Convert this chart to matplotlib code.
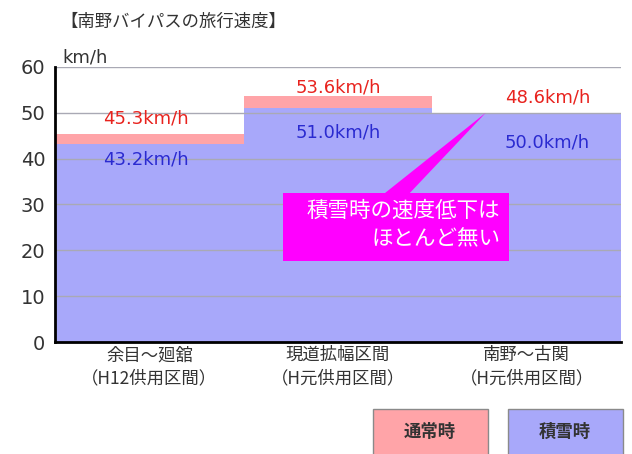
import matplotlib
matplotlib.use("Agg")
import matplotlib.pyplot as plt
from matplotlib.patches import Polygon, Rectangle

plt.rcParams['font.family'] = ['Noto Sans CJK JP', 'DejaVu Sans']

# Section names and travel speeds (km/h)
sections = ["余目～廻舘\n（H12供用区間）", "現道拡幅区間\n（H元供用区間）", "南野～古関\n（H元供用区間）"]
normal_speed = [45.3, 53.6, 48.6]   # 通常時
snow_speed = [43.2, 51.0, 50.0]     # 積雪時
y_ticks = [0, 10, 20, 30, 40, 50, 60]

pink = "#FFA4A8"
blue = "#A8A8FA"
red_txt = "#E8231E"
blue_txt = "#2A2AD0"
latin = ['DejaVu Sans']

fig = plt.figure(figsize=(6.32, 4.54), dpi=100)
ax = fig.add_axes([55 / 632, 1 - 342 / 454, (621 - 55) / 632, (342 - 67) / 454])

x = list(range(len(sections)))
ax.bar(x, normal_speed, width=1.0, color=pink, zorder=1, linewidth=0)
ax.bar(x, snow_speed, width=1.0, color=blue, zorder=2, linewidth=0)

ax.set_xlim(-0.5, 2.5)
ax.set_ylim(0, 60)
ax.set_yticks(y_ticks)
ax.set_yticklabels([str(v) for v in y_ticks], fontsize=14, color="#333333", family=latin)
ax.tick_params(axis='y', length=0, pad=7)
ax.set_xticks(x)
ax.set_xticklabels(sections, fontsize=12.5, color="#333333", linespacing=1.35)
ax.tick_params(axis='x', length=0, pad=3)

for v in y_ticks[1:]:
    ax.axhline(v, color="#a9a9b4", linewidth=1.0, zorder=3)

for s in ["top", "right"]:
    ax.spines[s].set_visible(False)
ax.spines["left"].set_linewidth(2)
ax.spines["bottom"].set_linewidth(2)
ax.spines["left"].set_zorder(5)
ax.spines["bottom"].set_zorder(5)

# Value labels
label_dx = [-0.02, 0.0, 0.11]
label_y_normal = [48.7, 55.6, 53.4]
label_y_snow = [39.8, 45.6, 43.6]
for i in range(len(sections)):
    ax.text(i + label_dx[i], label_y_normal[i], f"{normal_speed[i]:.1f}km/h",
            ha="center", va="center", fontsize=13, color=red_txt, zorder=6, family=latin)
    ax.text(i + label_dx[i], label_y_snow[i], f"{snow_speed[i]:.1f}km/h",
            ha="center", va="center", fontsize=13, color=blue_txt, zorder=6, family=latin)

# Callout
mag = "#FF00FF"
box = Rectangle((0.707, 17.7), 1.2, 14.8, facecolor=mag, edgecolor="none", zorder=7)
ax.add_patch(box)
pointer = Polygon([(1.246, 32.4), (1.378, 32.4), (1.783, 50.0)], closed=True,
                  facecolor=mag, edgecolor="none", zorder=7)
ax.add_patch(pointer)
ax.text(1.86, 28.6, "積雪時の速度低下は", ha="right", va="center",
        fontsize=15.5, color="white", zorder=8)
ax.text(1.86, 22.4, "ほとんど無い", ha="right", va="center",
        fontsize=15.5, color="white", zorder=8)

# Unit and title
fig.text(62 / 632, 1 - 58 / 454, "km/h", fontsize=13, color="#333333", va="center",
         ha="left", family=latin)
fig.text(60 / 632, 1 - 22 / 454, "【南野バイパスの旅行速度】", fontsize=12.5,
         color="#333333", va="center", ha="left")

# Legend boxes
leg = [("通常時", pink, 373), ("積雪時", blue, 508)]
for name, col, x0 in leg:
    r = Rectangle((x0 / 632, -0.02), 115 / 632, (454 - 409) / 454 + 0.02,
                  transform=fig.transFigure, facecolor=col, edgecolor="#8a8a8a",
                  linewidth=1.0)
    fig.patches.append(r)
    fig.text((x0 + 57) / 632, 1 - 432 / 454, name, fontsize=12.5, color="#333333",
             ha="center", va="center", fontweight="bold")

fig.savefig("out.png", dpi=100)
